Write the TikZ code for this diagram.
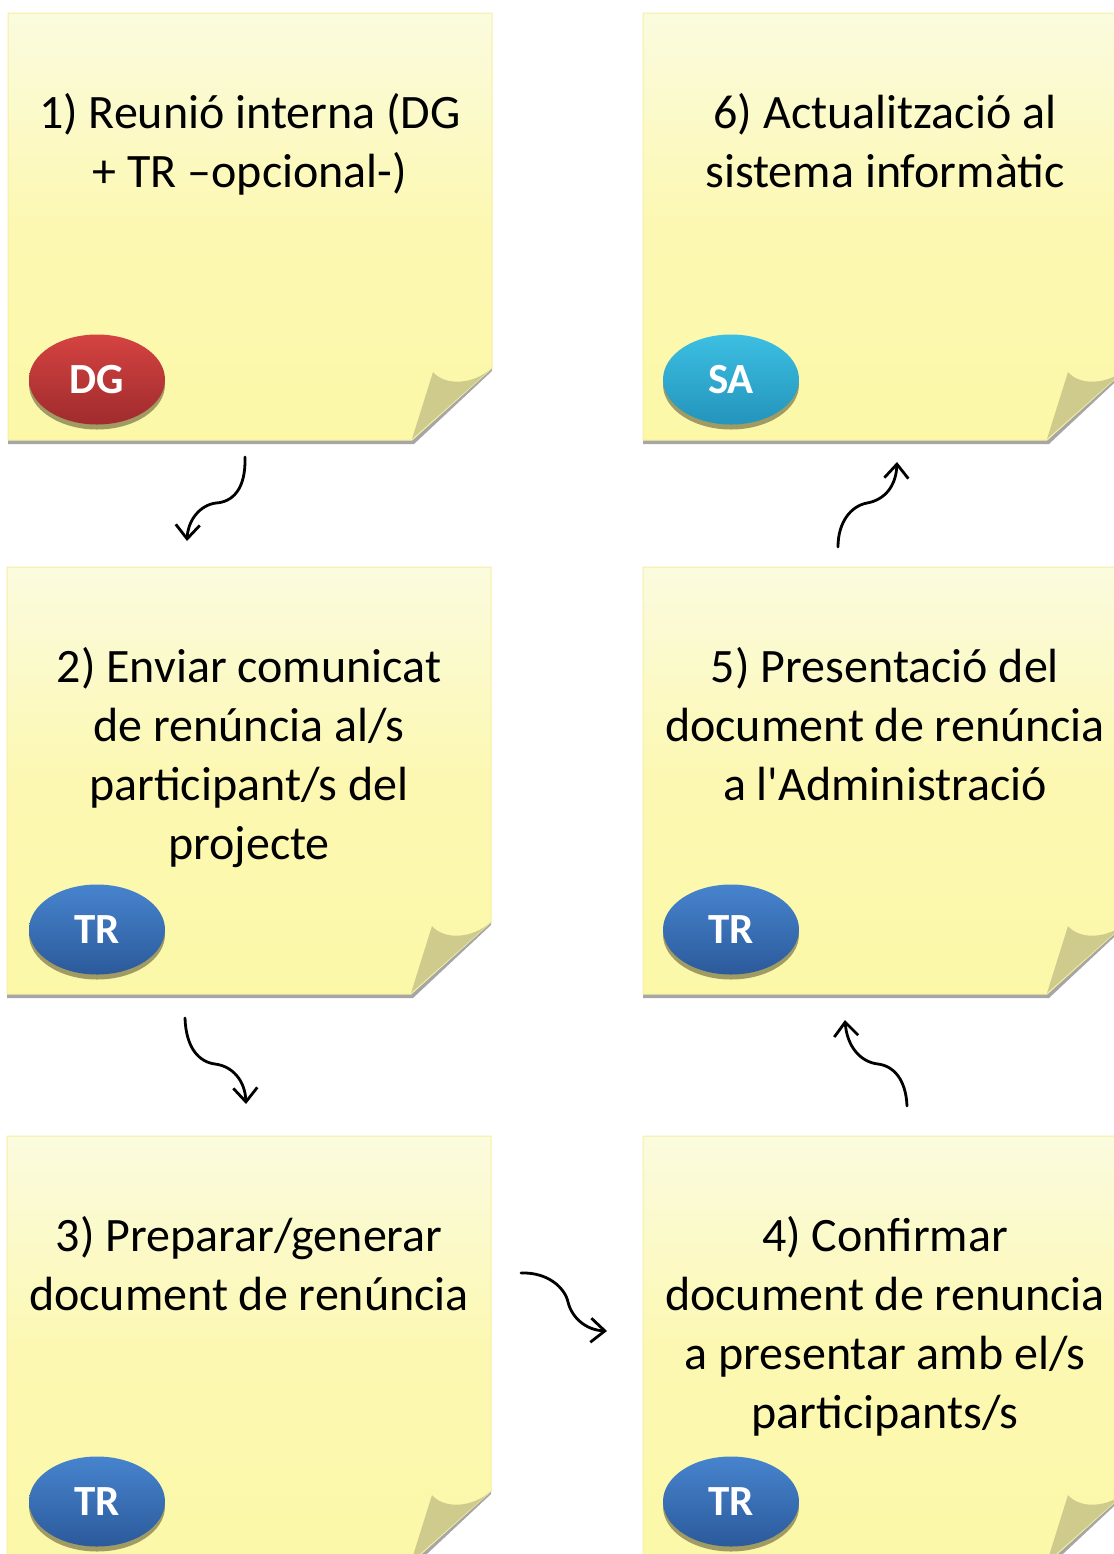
\documentclass[tikz,border=0pt]{standalone}
\usepackage{fontspec}
\setmainfont{Carlito}[Ligatures=TeXOff]
\usetikzlibrary{shapes.geometric,arrows.meta,shadows,positioning}

\definecolor{notetop}{HTML}{FBFBDF}
\definecolor{notemid}{HTML}{FCF8B2}
\definecolor{notebot}{HTML}{FCF8A8}
\definecolor{noteedge}{HTML}{F6EFA2}
\definecolor{notefold}{HTML}{CFCB8C}
\definecolor{noteshade}{HTML}{A6A6A6}
\definecolor{badgeshade}{HTML}{A09A63}
\definecolor{dgtop}{HTML}{D44341}
\definecolor{dgbot}{HTML}{A02B2D}
\definecolor{satop}{HTML}{3CBFE2}
\definecolor{sabot}{HTML}{2494BC}
\definecolor{trtop}{HTML}{4784CE}
\definecolor{trbot}{HTML}{2B5A9B}

\tikzset{
  pics/sticky/.style={code={
    \fill[noteshade] (0,424) -- (404,424) -- (484,352) -- (484,358) -- (406,431) -- (0,431) -- cycle;
    \shade[top color=notetop, bottom color=notebot, middle color=notemid,
           draw=noteedge, line width=0.5pt]
      (0,0) -- (484,0) -- (484,355) -- (404,427) -- (0,427) -- cycle;
    \fill[notefold] (404,426) -- (425,359) .. controls (437,373) and (465,372) .. (484,355) -- cycle;
  }}
}

\begin{document}
\begin{tikzpicture}[x=0.5pt,y=-0.5pt,
  notetext/.style={align=center, anchor=north, inner sep=0pt,
    font=\fontsize{24}{29.5}\selectfont},
  badge/.style={ellipse, minimum width=68pt, minimum height=45pt, inner sep=0pt,
    text=white, font=\fontsize{21.5}{24}\selectfont\bfseries,
    general shadow={fill=badgeshade, shadow yshift=-2.5pt}},
  dgbadge/.style={badge, top color=dgtop, bottom color=dgbot},
  sabadge/.style={badge, top color=satop, bottom color=sabot},
  trbadge/.style={badge, top color=trtop, bottom color=trbot},
  flow/.style={line width=1.4pt, line cap=round,
    -{Straight Barb[length=7pt,width=12pt,line width=1.4pt]}}
]
\clip (0,0) rectangle (1114,1554);

% the six notes
\foreach \nx/\ny in {8/13, 7/567, 7/1136, 643/1136, 643/567, 643/13}
  \pic at (\nx,\ny) {sticky};

% texts
\node[notetext] (step1) at (250,93) {1) Reunió interna (DG\\+ TR –opcional-)};
\node[notetext] (step2) at (249,647) {2) Enviar comunicat\\de renúncia al/s\\participant/s del\\projecte};
\node[notetext] (step3) at (249,1216) {3) Preparar/generar\\document de renúncia};
\node[notetext] (step4) at (885,1216) {4) Confirmar\\document de renuncia\\a presentar amb el/s\\participants/s};
\node[notetext] (step5) at (885,647) {5) Presentació del\\document de renúncia\\a l'Administració};
\node[notetext] (step6) at (885,93) {6) Actualització al\\sistema informàtic};

% who does it
\node[dgbadge] (dg1) at (97,379.5) {DG};
\node[trbadge] (tr2) at (97,929.5) {TR};
\node[trbadge] (tr3) at (97,1501.5) {TR};
\node[trbadge] (tr4) at (731,1501.5) {TR};
\node[trbadge] (tr5) at (731,929.5) {TR};
\node[sabadge] (sa6) at (731,379.5) {SA};

% arrows
\coordinate (a1) at (245,457);
\coordinate (b1) at (187,541);
\coordinate (a2) at (185,1018);
\coordinate (b2) at (246,1104);
\coordinate (a3) at (521,1273);
\coordinate (b3) at (607,1331);
\coordinate (a4) at (907,1106);
\coordinate (b4) at (845,1020);
\coordinate (a5) at (838,547);
\coordinate (b5) at (897,462);

\draw[flow] (a1) .. controls (246,490) and (232,502) .. (216,503)
  .. controls (200,505) and (188,520) .. (b1);
\draw[flow] (a2) .. controls (186,1048) and (199,1062) .. (215,1064)
  .. controls (232,1066) and (245,1080) .. (b2);
\draw[flow] (a3) .. controls (548,1272) and (565,1288) .. (568,1302)
  .. controls (572,1318) and (586,1330) .. (b3);
\draw[flow] (a4) .. controls (906,1080) and (894,1066) .. (878,1064)
  .. controls (860,1062) and (847,1046) .. (b4);
\draw[flow] (a5) .. controls (838,522) and (851,506) .. (867,503)
  .. controls (884,500) and (896,487) .. (b5);
\end{tikzpicture}
\end{document}
